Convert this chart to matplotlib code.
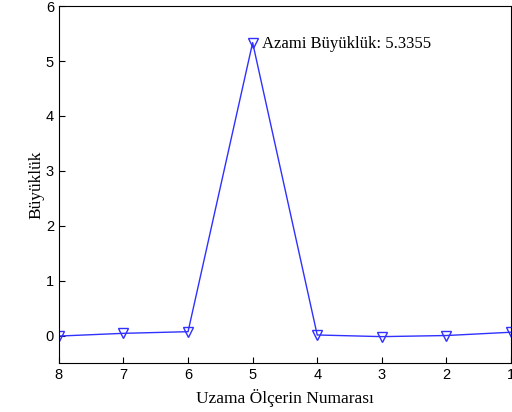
import numpy as np
import matplotlib.pyplot as plt

# gauge number and magnitude
gauge = [8, 7, 6, 5, 4, 3, 2, 1]
magnitude = [-0.01, 0.04, 0.07, 5.3355, 0.01, -0.02, 0.0, 0.06]
peak = 5.3355

fig = plt.figure(figsize=(5.12, 4.12), dpi=100)
ax = fig.add_axes([0.115, 0.119, 0.883, 0.866])

ax.plot(gauge, magnitude, color='#3030ff', linewidth=1.0, marker='v',
        markersize=7, markerfacecolor='none', markeredgecolor='#3030ff')

ax.set_xlim(8, 1)
ax.set_ylim(-0.5, 6)
ax.set_xticks([8, 7, 6, 5, 4, 3, 2, 1])
ax.set_yticks([0, 1, 2, 3, 4, 5, 6])
ax.tick_params(direction='in', length=4, labelsize=10.5)
for lbl in ax.get_xticklabels() + ax.get_yticklabels():
    lbl.set_family('Liberation Sans')

ax.set_xlabel('Uzama Ölçerin Numarası', family='Liberation Serif', fontsize=12.5, labelpad=5)
ax.set_ylabel('Büyüklük', family='Liberation Serif', fontsize=12.5, labelpad=1)

ax.text(4.85, peak - 0.17, 'Azami Büyüklük: %.4f' % peak, family='Liberation Serif',
        fontsize=12, va='bottom', ha='left')

fig.savefig('out.png', dpi=100)
